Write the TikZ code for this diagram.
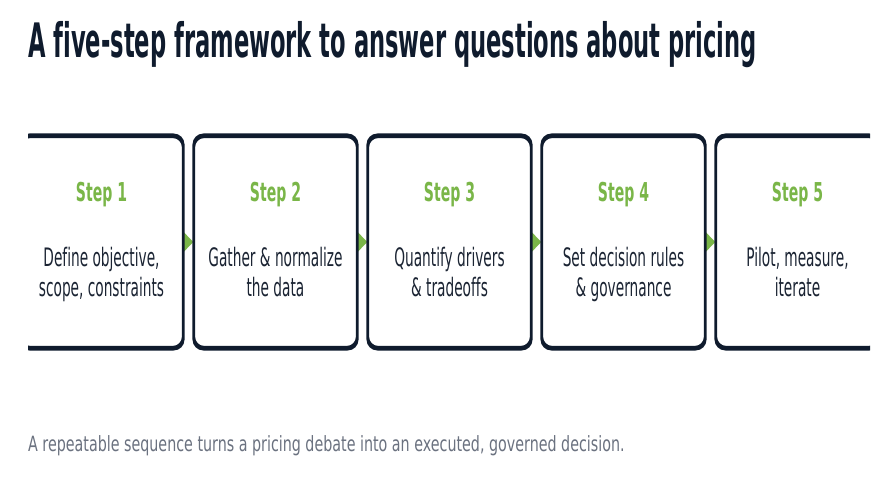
\documentclass[tikz,border=0pt]{standalone}
\usepackage{fontspec}
\setmainfont{DejaVu Sans}
\newfontfamily\titlefont{DejaVu Sans}[FakeStretch=0.476, Ligatures=NoCommon]
\newfontfamily\stepfont{DejaVu Sans}[FakeStretch=0.54, Ligatures=NoCommon]
\newfontfamily\capfont{DejaVu Sans}[FakeStretch=0.68, Ligatures=NoCommon]
\definecolor{navy}{HTML}{0F1B2D}
\definecolor{bodyink}{HTML}{1B2433}
\definecolor{stepgreen}{HTML}{7AB648}
\definecolor{capgray}{HTML}{6B7280}
\tikzset{
  boxnode/.style={rectangle, inner sep=0pt, minimum width=163pt, minimum height=212pt},
  steplabel/.style={anchor=base, inner sep=0pt, text=stepgreen, font=\stepfont\bfseries\fontsize{26}{30}\selectfont},
  bodytext/.style={anchor=center, inner sep=0pt, align=center, text=bodyink, font=\stepfont\fontsize{25.4}{30}\selectfont},
  linkarrow/.style={fill=stepgreen},
  ring/.style={fill=navy, even odd rule}
}
\begin{document}
\begin{tikzpicture}[x=1pt,y=-1pt]
\useasboundingbox (0,0) rectangle (892,484);
\fill[white] (0,0) rectangle (892,484);

\node[anchor=base west, inner sep=0pt, text=navy, font=\titlefont\bfseries\fontsize{47.5}{55}\selectfont] (title) at (28,57.3) {A five-step framework to answer questions about pricing};

\begin{scope}
\clip (28,100) rectangle (870,400);
\node[boxnode] (b1) at (101.5,242) {};
\node[boxnode] (b2) at (275.5,242) {};
\node[boxnode] (b3) at (449.5,242) {};
\node[boxnode] (b4) at (623.5,242) {};
\node[boxnode] (b5) at (797.5,242) {};

\foreach \a/\b in {b1/b2,b2/b3,b3/b4,b4/b5}{
  \fill[linkarrow] ([shift={(0,-10.5)}]\a.east) -- ([shift={(0,10.5)}]\a.east) -- ([shift={(10,0)}]\a.east) -- cycle;
}

\foreach \n in {b1,b2,b3,b4,b5}{
  \fill[ring, rounded corners=11pt]
    ([shift={(-1.35,-2.3)}]\n.north west) rectangle ([shift={(1.35,2.3)}]\n.south east)
    [rounded corners=9pt]
    ([shift={(1.35,2.3)}]\n.north west) rectangle ([shift={(-1.35,-2.3)}]\n.south east);
}
\end{scope}

\node[steplabel] (s1) at (101.5,201.7) {Step 1};
\node[steplabel] (s2) at (275.5,201.7) {Step 2};
\node[steplabel] (s3) at (449.5,201.7) {Step 3};
\node[steplabel] (s4) at (623.5,201.7) {Step 4};
\node[steplabel] (s5) at (797.5,201.7) {Step 5};

\node[bodytext] (t1) at (101.5,275.7) {\strut Define objective,\\\strut scope, constraints};
\node[bodytext] (t2) at (275.5,275.7) {\strut Gather \& normalize\\\strut the data};
\node[bodytext] (t3) at (449.5,275.7) {\strut Quantify drivers\\\strut \& tradeoffs};
\node[bodytext] (t4) at (623.5,275.7) {\strut Set decision rules\\\strut \& governance};
\node[bodytext] (t5) at (797.5,275.7) {\strut Pilot, measure,\\\strut iterate};

\node[anchor=base west, inner sep=0pt, text=capgray, font=\capfont\fontsize{21}{25}\selectfont] (caption) at (28,451.5) {A repeatable sequence turns a pricing debate into an executed, governed decision.};
\end{tikzpicture}
\end{document}
